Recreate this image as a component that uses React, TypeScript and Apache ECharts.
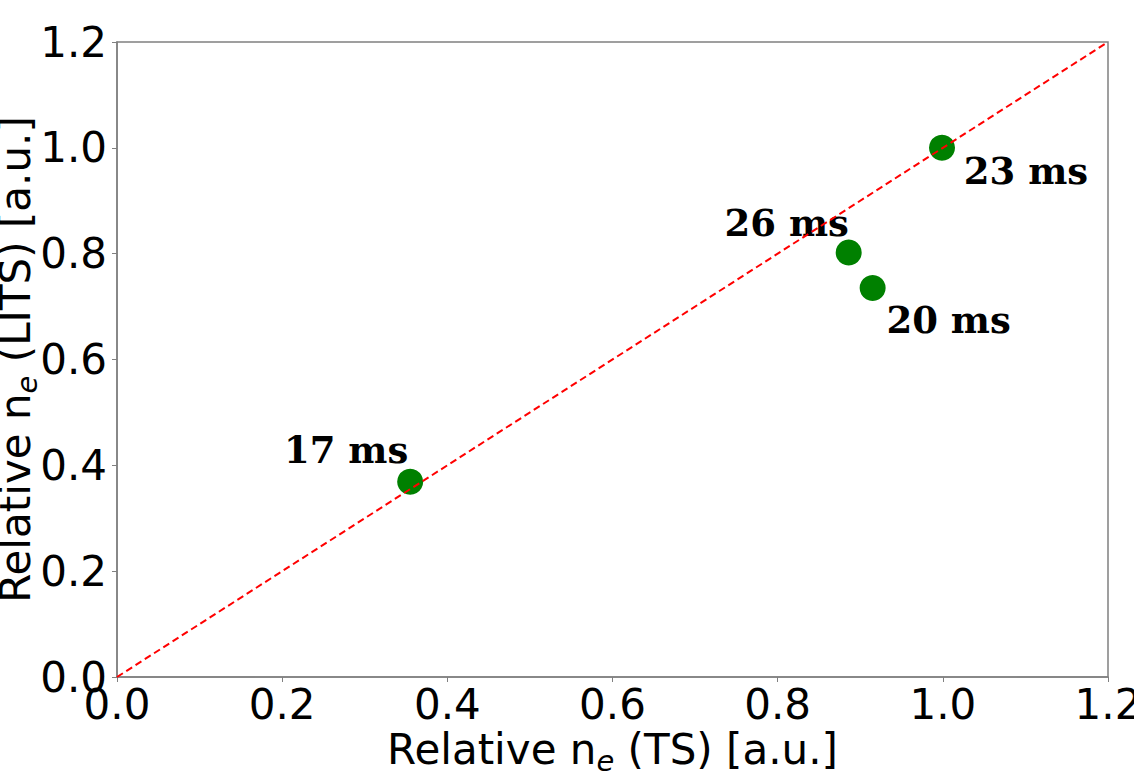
import React, { useEffect, useRef } from "react";
import * as echarts from "echarts";

const tsValues = [0.355, 0.886, 0.915, 0.999];
const litsValues = [0.369, 0.802, 0.735, 1.0];
const timeLabels = ["17 ms", "26 ms", "20 ms", "23 ms"];
const labelOffsets: [number, number][] = [
  [-64, -32],
  [-62, -30],
  [76, 32],
  [84, 23],
];
const identityLine = [
  [0, 0],
  [1.2, 1.2],
];

export default function App() {
  const ref = useRef<HTMLDivElement>(null);
  useEffect(() => {
    if (!ref.current) return;
    const chart = echarts.init(ref.current, undefined, { renderer: "svg" });
    const axisColor = "#808080";
    const tickFont = { fontFamily: "DejaVu Sans", fontSize: 42, color: "#000" };
    const nameStyle = {
      fontFamily: "DejaVu Sans",
      fontSize: 42,
      color: "#000",
      rich: {
        sub: {
          fontFamily: "DejaVu Sans",
          fontStyle: "italic",
          fontSize: 29,
          color: "#000",
          padding: [22, 0, 0, 0],
        },
      },
    };
    chart.setOption({
      animation: false,
      grid: {
        left: 117,
        right: 26,
        top: 42,
        bottom: 97,
        show: true,
        borderColor: axisColor,
        borderWidth: 1.5,
        outerBoundsMode: "none",
        containLabel: false,
      },
      xAxis: {
        type: "value",
        min: 0,
        max: 1.2,
        interval: 0.2,
        name: "Relative n{sub|e} (TS) [a.u.]",
        nameLocation: "middle",
        nameGap: 47,
        nameMoveOverlap: false,
        nameTextStyle: nameStyle,
        axisLine: { show: true, lineStyle: { color: axisColor, width: 1.5 } },
        axisTick: { show: true, length: 5, lineStyle: { color: axisColor } },
        axisLabel: { ...tickFont, margin: 6, formatter: (v: number) => v.toFixed(1) },
        splitLine: { show: false },
      },
      yAxis: {
        type: "value",
        min: 0,
        max: 1.2,
        interval: 0.2,
        name: "Relative n{sub|e} (LITS) [a.u.]",
        nameLocation: "middle",
        nameRotate: 90,
        nameGap: 76,
        nameMoveOverlap: false,
        nameTextStyle: nameStyle,
        axisLine: { show: true, lineStyle: { color: axisColor, width: 1.5 } },
        axisTick: { show: true, length: 5, lineStyle: { color: axisColor } },
        axisLabel: { ...tickFont, margin: 10, formatter: (v: number) => v.toFixed(1) },
        splitLine: { show: false },
      },
      series: [
        {
          type: "line",
          data: identityLine,
          symbol: "none",
          lineStyle: { color: "#ff0000", width: 2, type: [7, 4] },
          silent: true,
          z: 3,
        },
        {
          type: "scatter",
          symbolSize: 26,
          itemStyle: { color: "#008000", opacity: 1 },
          z: 2,
          data: tsValues.map((x, i) => ({
            value: [x, litsValues[i]],
            name: timeLabels[i],
            label: {
              show: true,
              formatter: timeLabels[i],
              position: "inside",
              offset: labelOffsets[i],
              fontFamily: "DejaVu Serif",
              fontWeight: "bold",
              fontSize: 37,
              color: "#000",
              opacity: 1,
            },
          })),
        },
      ],
    });
    return () => chart.dispose();
  }, []);
  return (
    <div
      ref={ref}
      style={{ position: "absolute", left: 0, top: 0, width: 1134, height: 774 }}
    />
  );
}
